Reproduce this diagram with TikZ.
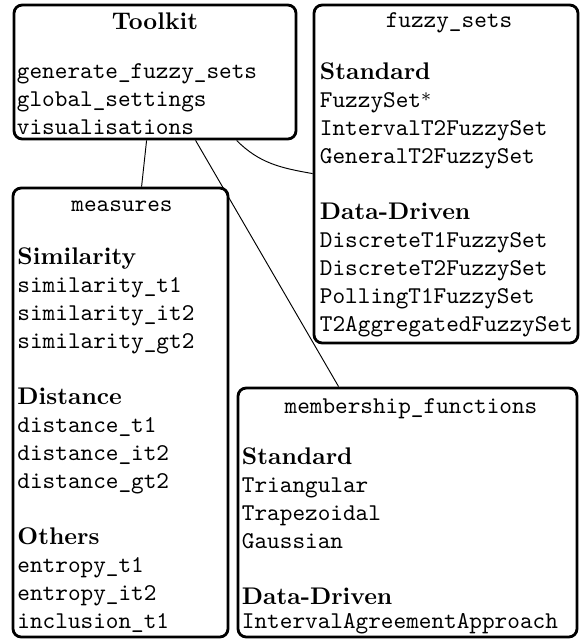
\documentclass[tikz,border=0pt]{standalone}
\usetikzlibrary{fit,calc}
\newcommand{\picfont}{\fontsize{10.2}{11.85}\selectfont}
\newcommand{\fstar}{\raisebox{2.6pt}{\fontsize{8}{8}\selectfont$\ast$}}
\begin{document}
\begin{tikzpicture}[x=0.4237pt,y=0.4237pt,
  box/.style={draw, very thick, rounded corners=3.5pt, inner sep=0pt},
  ttl/.style={anchor=base, inner sep=0pt, font=\picfont\ttfamily},
  bttl/.style={anchor=base, inner sep=0pt, font=\picfont\bfseries},
  body/.style={anchor=north west, inner sep=0pt, align=left, font=\picfont\ttfamily},
  link/.style={draw, line width=0.4pt}]
\useasboundingbox (0,0) rectangle (582,-639);
% boxes
\node[box, fit={(14,-5) (296,-139)}] (toolkit) {};
\node[box, fit={(314,-5) (578,-343)}] (fuzzy) {};
\node[box, fit={(13,-188) (228,-637)}] (measures) {};
\node[box, fit={(238,-388) (577,-637)}] (membership) {};
% titles
\node[bttl] (toolkitT) at (155,-29) {Toolkit};
\node[ttl] (fuzzyT) at (449,-27) {fuzzy\_sets};
\node[ttl] (measuresT) at (122,-211) {measures};
\node[ttl] (membershipT) at (411,-413) {membership\_functions};
% bodies
\node[body] (toolkitB) at (16.5,-58.4) {\strut generate\_fuzzy\_sets\\global\_settings\\visualisations};
\node[body] (fuzzyB) at (319.5,-59.4) {\strut\textrm{\bfseries Standard}\\FuzzySet\fstar\\IntervalT2FuzzySet\\GeneralT2FuzzySet\\[11.85pt]
\textrm{\bfseries Data-Driven}\\DiscreteT1FuzzySet\\DiscreteT2FuzzySet\\PollingT1FuzzySet\\T2AggregatedFuzzySet};
\node[body] (measuresB) at (17,-244.4) {\strut\textrm{\bfseries Similarity}\\similarity\_t1\\similarity\_it2\\similarity\_gt2\\[11.85pt]
\textrm{\bfseries Distance}\\distance\_t1\\distance\_it2\\distance\_gt2\\[11.85pt]
\textrm{\bfseries Others}\\entropy\_t1\\entropy\_it2\\inclusion\_t1};
\node[body] (membershipB) at (241.5,-444.4) {\strut\textrm{\bfseries Standard}\\Triangular\\Trapezoidal\\Gaussian\\[11.85pt]
\textrm{\bfseries Data-Driven}\\[-1.5pt]IntervalAgreementApproach};
% connectors
\draw[link] ($(toolkit.south west)+(134,0)$) -- ($(measures.north west)+(130,0)$);
\draw[link] ($(toolkit.south west)+(183,0)$) -- ($(membership.north west)+(102,0)$);
\draw[link] ($(toolkit.south west)+(224,0)$) to[out=-45,in=170] ($(fuzzy.north west)+(0,-170)$);
\end{tikzpicture}
\end{document}
